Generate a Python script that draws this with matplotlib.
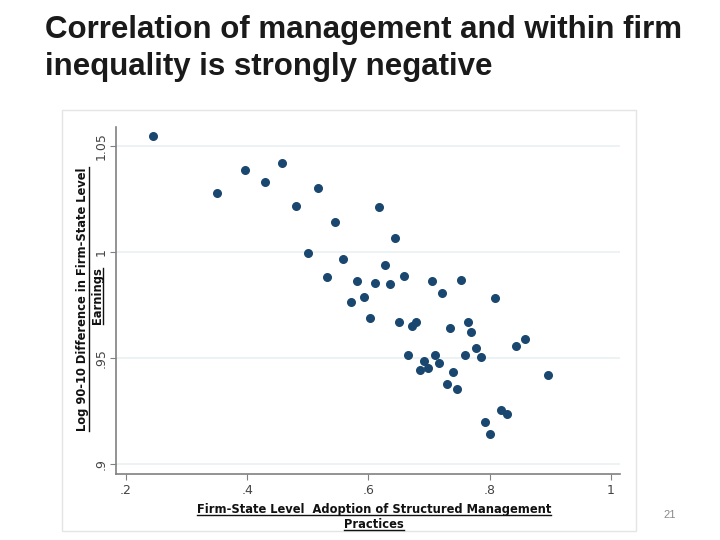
import matplotlib
matplotlib.use('Agg')
import matplotlib.pyplot as plt
from matplotlib.patches import Rectangle
from matplotlib.lines import Line2D

# adoption of structured management practices (x) and log 90-10 earnings gap (y)
mgmt = [0.245, 0.350, 0.396, 0.429, 0.457, 0.517, 0.481, 0.545, 0.500, 0.532,
        0.618, 0.643, 0.558, 0.628, 0.581, 0.610, 0.636, 0.658, 0.571, 0.592,
        0.602, 0.705, 0.753, 0.721, 0.651, 0.672, 0.679, 0.734, 0.808, 0.765,
        0.770, 0.843, 0.858, 0.777, 0.666, 0.710, 0.759, 0.785, 0.691, 0.716,
        0.699, 0.685, 0.739, 0.896, 0.729, 0.746, 0.818, 0.829, 0.792, 0.800]
ineq = [1.0549, 1.0280, 1.0385, 1.0330, 1.0418, 1.0302, 1.0218, 1.0143, 0.9994, 0.9883,
        1.0213, 1.0064, 0.9965, 0.9938, 0.9863, 0.9855, 0.9849, 0.9886, 0.9765, 0.9789,
        0.9691, 0.9863, 0.9868, 0.9808, 0.9668, 0.9653, 0.9668, 0.9644, 0.9784, 0.9668,
        0.9621, 0.9559, 0.9588, 0.9547, 0.9514, 0.9514, 0.9514, 0.9504, 0.9487, 0.9476,
        0.9454, 0.9443, 0.9433, 0.9419, 0.9377, 0.9355, 0.9253, 0.9237, 0.9200, 0.9140]
xticks = [0.2, 0.4, 0.6, 0.8, 1.0]
xlabels = ['.2', '.4', '.6', '.8', '1']
yticks = [0.9, 0.95, 1.0, 1.05]
ylabels = ['.9', '.95', '1', '1.05']

fig = plt.figure(figsize=(7.2, 5.4), dpi=100)

# slide title
fig.text(0.0625, 0.972, 'Correlation of management and within firm\ninequality is strongly negative',
         family='Liberation Sans', fontweight='bold', fontsize=22.5, va='top', ha='left',
         linespacing=1.3, color='#1a1a1a')

# graph region box
fig.patches.append(Rectangle((62 / 720, 1 - 531 / 540), 574 / 720, 421 / 540,
                             transform=fig.transFigure, facecolor='white',
                             edgecolor='#e4e4e4', lw=1, zorder=-5))

ax = fig.add_axes([116 / 720, 1 - 474 / 540, 504 / 720, 347 / 540])
ax.scatter(mgmt, ineq, s=30, color='#1a476f', edgecolors='#1a476f', zorder=3)
ax.set_xlim(0.1835, 1.015)
ax.set_ylim(0.8953, 1.059)
ax.set_xticks(xticks)
ax.set_xticklabels(xlabels)
ax.set_yticks(yticks)
ax.set_yticklabels(ylabels, rotation=90, va='center')
ax.grid(axis='y', color='#eaf1f2', lw=1.2)
ax.set_axisbelow(True)
for s in ['top', 'right']:
    ax.spines[s].set_visible(False)
for s in ['left', 'bottom']:
    ax.spines[s].set_color('#808080')
    ax.spines[s].set_linewidth(1.2)
ax.tick_params(colors='#808080', labelcolor='#444444', labelsize=9, length=4)
ax.tick_params(axis='y', pad=2)
ax.patch.set_alpha(0)

# axis titles (bold, underlined as in the original)
lab_font = dict(family='DejaVu Sans', fontweight='bold', fontsize=8.3, color='#111111')
tx1 = fig.text(374 / 720, 1 - 509 / 540, 'Firm-State Level  Adoption of Structured Management',
               ha='center', va='center', **lab_font)
tx2 = fig.text(374 / 720, 1 - 524 / 540, 'Practices', ha='center', va='center', **lab_font)
ty1 = fig.text(83 / 720, 1 - 299 / 540, 'Log 90-10 Difference in Firm-State Level',
               ha='center', va='center', rotation=90, **lab_font)
ty2 = fig.text(98 / 720, 1 - 296 / 540, 'Earnings', ha='center', va='center',
               rotation=90, **lab_font)

fig.text(670 / 720, 1 - 515 / 540, '21', fontsize=8, color='#8a8a8a',
         ha='center', va='center', family='Liberation Sans')

fig.canvas.draw()
r = fig.canvas.get_renderer()
W, H = fig.bbox.width, fig.bbox.height
for t in (tx1, tx2):
    bb = t.get_window_extent(r)
    fig.lines.append(Line2D([bb.x0 / W, bb.x1 / W], [(bb.y0 + 1) / H] * 2,
                            transform=fig.transFigure, color='#111111', lw=1))
for t in (ty1, ty2):
    bb = t.get_window_extent(r)
    fig.lines.append(Line2D([(bb.x1 - 1) / W] * 2, [bb.y0 / H, bb.y1 / H],
                            transform=fig.transFigure, color='#111111', lw=1))

fig.savefig('out.png', dpi=100)
